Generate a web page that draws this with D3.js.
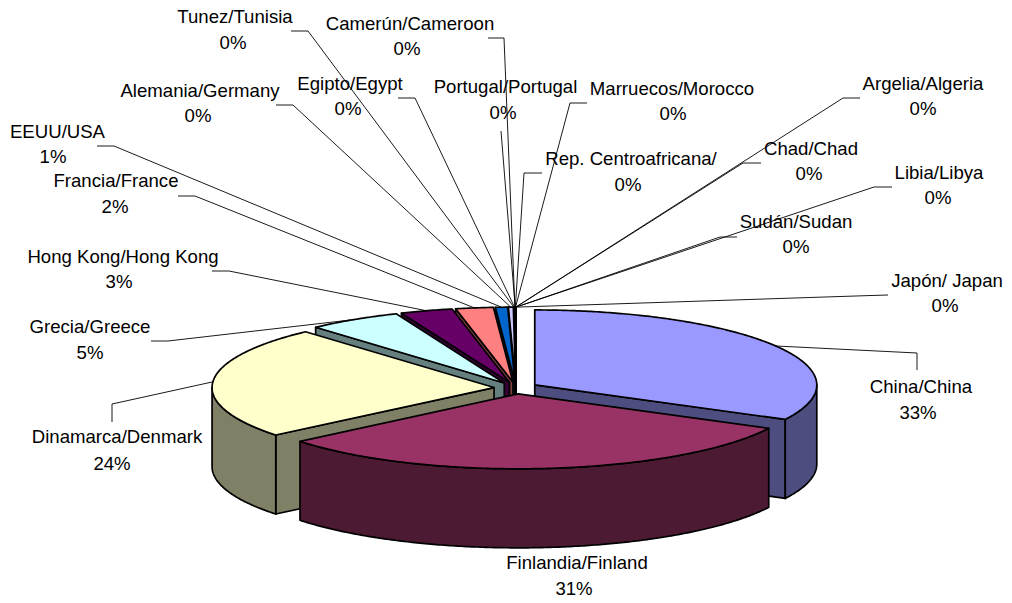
<!DOCTYPE html>
<html>
<head>
<meta charset="utf-8">
<script src="https://cdn.jsdelivr.net/npm/d3@7"></script>
<style>
    html, body { margin: 0; padding: 0; background: #fff; }
    svg { display: block; }
    text { font-family: "Liberation Sans", Arial, sans-serif; font-size: 18.6px; fill: #000; text-anchor: middle; }
</style>
</head>
<body>
<div id="graph"></div>
<script>
// data, clockwise from 12 o'clock
const countries = ['China/China', 'Finlandia/Finland', 'Dinamarca/Denmark', 'Grecia/Greece',
    'Hong Kong/Hong Kong', 'Francia/France', 'EEUU/USA', 'Alemania/Germany', 'Tunez/Tunisia',
    'Egipto/Egypt', 'Camerún/Cameroon', 'Portugal/Portugal', 'Rep. Centroafricana/', 'Marruecos/Morocco',
    'Argelia/Algeria', 'Chad/Chad', 'Libia/Libya', 'Sudán/Sudan', 'Japón/ Japan'];
const shares = [32.6, 31.49, 24.25, 5.4, 3, 2.15, 0.7, 0.28, 0.04, 0.025, 0.015, 0.012, 0.01, 0.008, 0.006, 0.005, 0.004, 0.003, 0.002];

// styles
const topColors = ['#9999ff', '#993366', '#ffffcc', '#ccffff', '#660066', '#ff8080', '#0066cc', '#ccccff',
    '#000080', '#ff00ff', '#ffff00', '#00ffff', '#800080', '#800000', '#008080', '#0000ff', '#00ccff', '#ccffff', '#ccffcc'];

// layout
const width = 1012;
const height = 603;
const centerX = 516;
const centerY = 388;
const radiusX = 282;
const radiusY = 75;
const depth = 79;
const explode = 22;

// label anchors: [name x, name baseline, percent x, percent baseline]
const labelPos = [
    [921, 393, 918, 419], [577, 569, 574, 595], [117, 443, 112, 470], [90, 333, 90, 359],
    [123, 263, 119, 288], [116, 187, 115, 213], [57.5, 138, 53, 163], [200, 97, 198, 122],
    [235, 23, 233, 49], [350, 90, 348, 115], [410, 30, 407, 55], [505.5, 93, 503, 119],
    [631, 165, 628, 191], [672, 95, 673, 120], [923, 90, 923, 115], [811, 155, 809, 180],
    [939, 179, 938, 204], [796, 228, 796, 253], [947, 287, 945, 312]
];
// leader lines: [elbow x, elbow y, end x, end y]
const leaderPos = [
    [917, 353, 917, 370], null, [112, 404, 112, 422], [168, 341, 151, 341],
    [229, 271, 212, 271], [195, 196, 178, 196], [114, 146, 97, 146], [293, 105, 276, 105],
    [308, 31, 291, 31], [415, 98, 398, 98], [504, 38, 488, 38], [501, 131, 501, 131],
    [524, 173, 542, 173], [570, 103, 587, 103], [843, 98, 860, 98], [743, 163, 761, 163],
    [874, 187, 892, 187], [720, 237, 737, 237], [871, 295.5, 888, 295]
];

const line = d3.line();

function apexOf(slice) {
    let mid = (slice.startAngle + slice.endAngle) / 2;
    return [
        centerX + explode * Math.sin(mid),
        centerY - explode * Math.cos(mid) * radiusY / radiusX
    ];
}

function rimPoint(apex, angle, drop) {
    return [apex[0] + radiusX * Math.sin(angle), apex[1] - radiusY * Math.cos(angle) + drop];
}

function rimPoints(apex, from, to, drop) {
    let count = Math.max(2, Math.ceil((to - from) / 0.01));
    return d3.range(count + 1).map(i => rimPoint(apex, from + (to - from) * i / count, drop));
}

function radialFace(apex, angle) {
    let rim = rimPoint(apex, angle, 0);
    return line([apex, rim, [rim[0], rim[1] + depth], [apex[0], apex[1] + depth]]) + 'Z';
}

function drawSlice(svg, slice) {
    let apex = apexOf(slice);
    let color = topColors[slice.index];
    let base = d3.rgb(color);
    let sideColor = d3.rgb(base.r / 2, base.g / 2, base.b / 2).formatHex();
    let g = svg.append('g')
        .attr('stroke', '#000')
        .attr('stroke-width', 1.7)
        .attr('stroke-linejoin', 'round');

    // cut faces: start face looks at the viewer on the left half, end face on the right half
    if (Math.sin(slice.startAngle) < 1e-6) {
        g.append('path').attr('d', radialFace(apex, slice.startAngle)).attr('fill', sideColor);
    }
    if (Math.sin(slice.endAngle) > 0) {
        g.append('path').attr('d', radialFace(apex, slice.endAngle)).attr('fill', sideColor);
    }

    // the outer wall only shows on the front half of the ellipse
    let from = Math.max(slice.startAngle, Math.PI / 2);
    let to = Math.min(slice.endAngle, Math.PI * 1.5);
    if (to > from) {
        let upper = rimPoints(apex, from, to, 0);
        let lower = rimPoints(apex, from, to, depth).reverse();
        g.append('path').attr('d', line(upper.concat(lower)) + 'Z').attr('fill', sideColor);
    }

    let rim = rimPoints(apex, slice.startAngle, slice.endAngle, 0);
    g.append('path').attr('d', line([apex].concat(rim)) + 'Z').attr('fill', color);
}

function drawLeader(svg, slice) {
    let pos = leaderPos[slice.index];
    if (!pos) return;
    let mid = (slice.startAngle + slice.endAngle) / 2;
    let start = rimPoint(apexOf(slice), mid, 0);
    svg.append('path')
        .attr('d', line([start, [pos[0], pos[1]], [pos[2], pos[3]]]))
        .attr('fill', 'none')
        .attr('stroke', '#000')
        .attr('stroke-width', 0.9);
}

function drawLabel(svg, slice) {
    let pos = labelPos[slice.index];
    svg.append('text').attr('x', pos[0]).attr('y', pos[1]).text(countries[slice.index]);
    svg.append('text').attr('x', pos[2]).attr('y', pos[3]).text(`${ Math.round(shares[slice.index]) }%`);
}

let svg = d3.select('div#graph')
    .append('svg')
    .attr('width', width)
    .attr('height', height);

let slices = d3.pie().sort(null).value(d => d)(shares);
slices.forEach((s, i) => { s.index = i; });

// back to front: farthest from 6 o'clock gets painted first
let painted = slices.slice().sort((a, b) => {
    let distance = s => Math.abs((s.startAngle + s.endAngle) / 2 - Math.PI);
    return distance(b) - distance(a);
});

painted.forEach(s => drawSlice(svg, s));
slices.forEach(s => drawLeader(svg, s));
slices.forEach(s => drawLabel(svg, s));
</script>
</body>
</html>
